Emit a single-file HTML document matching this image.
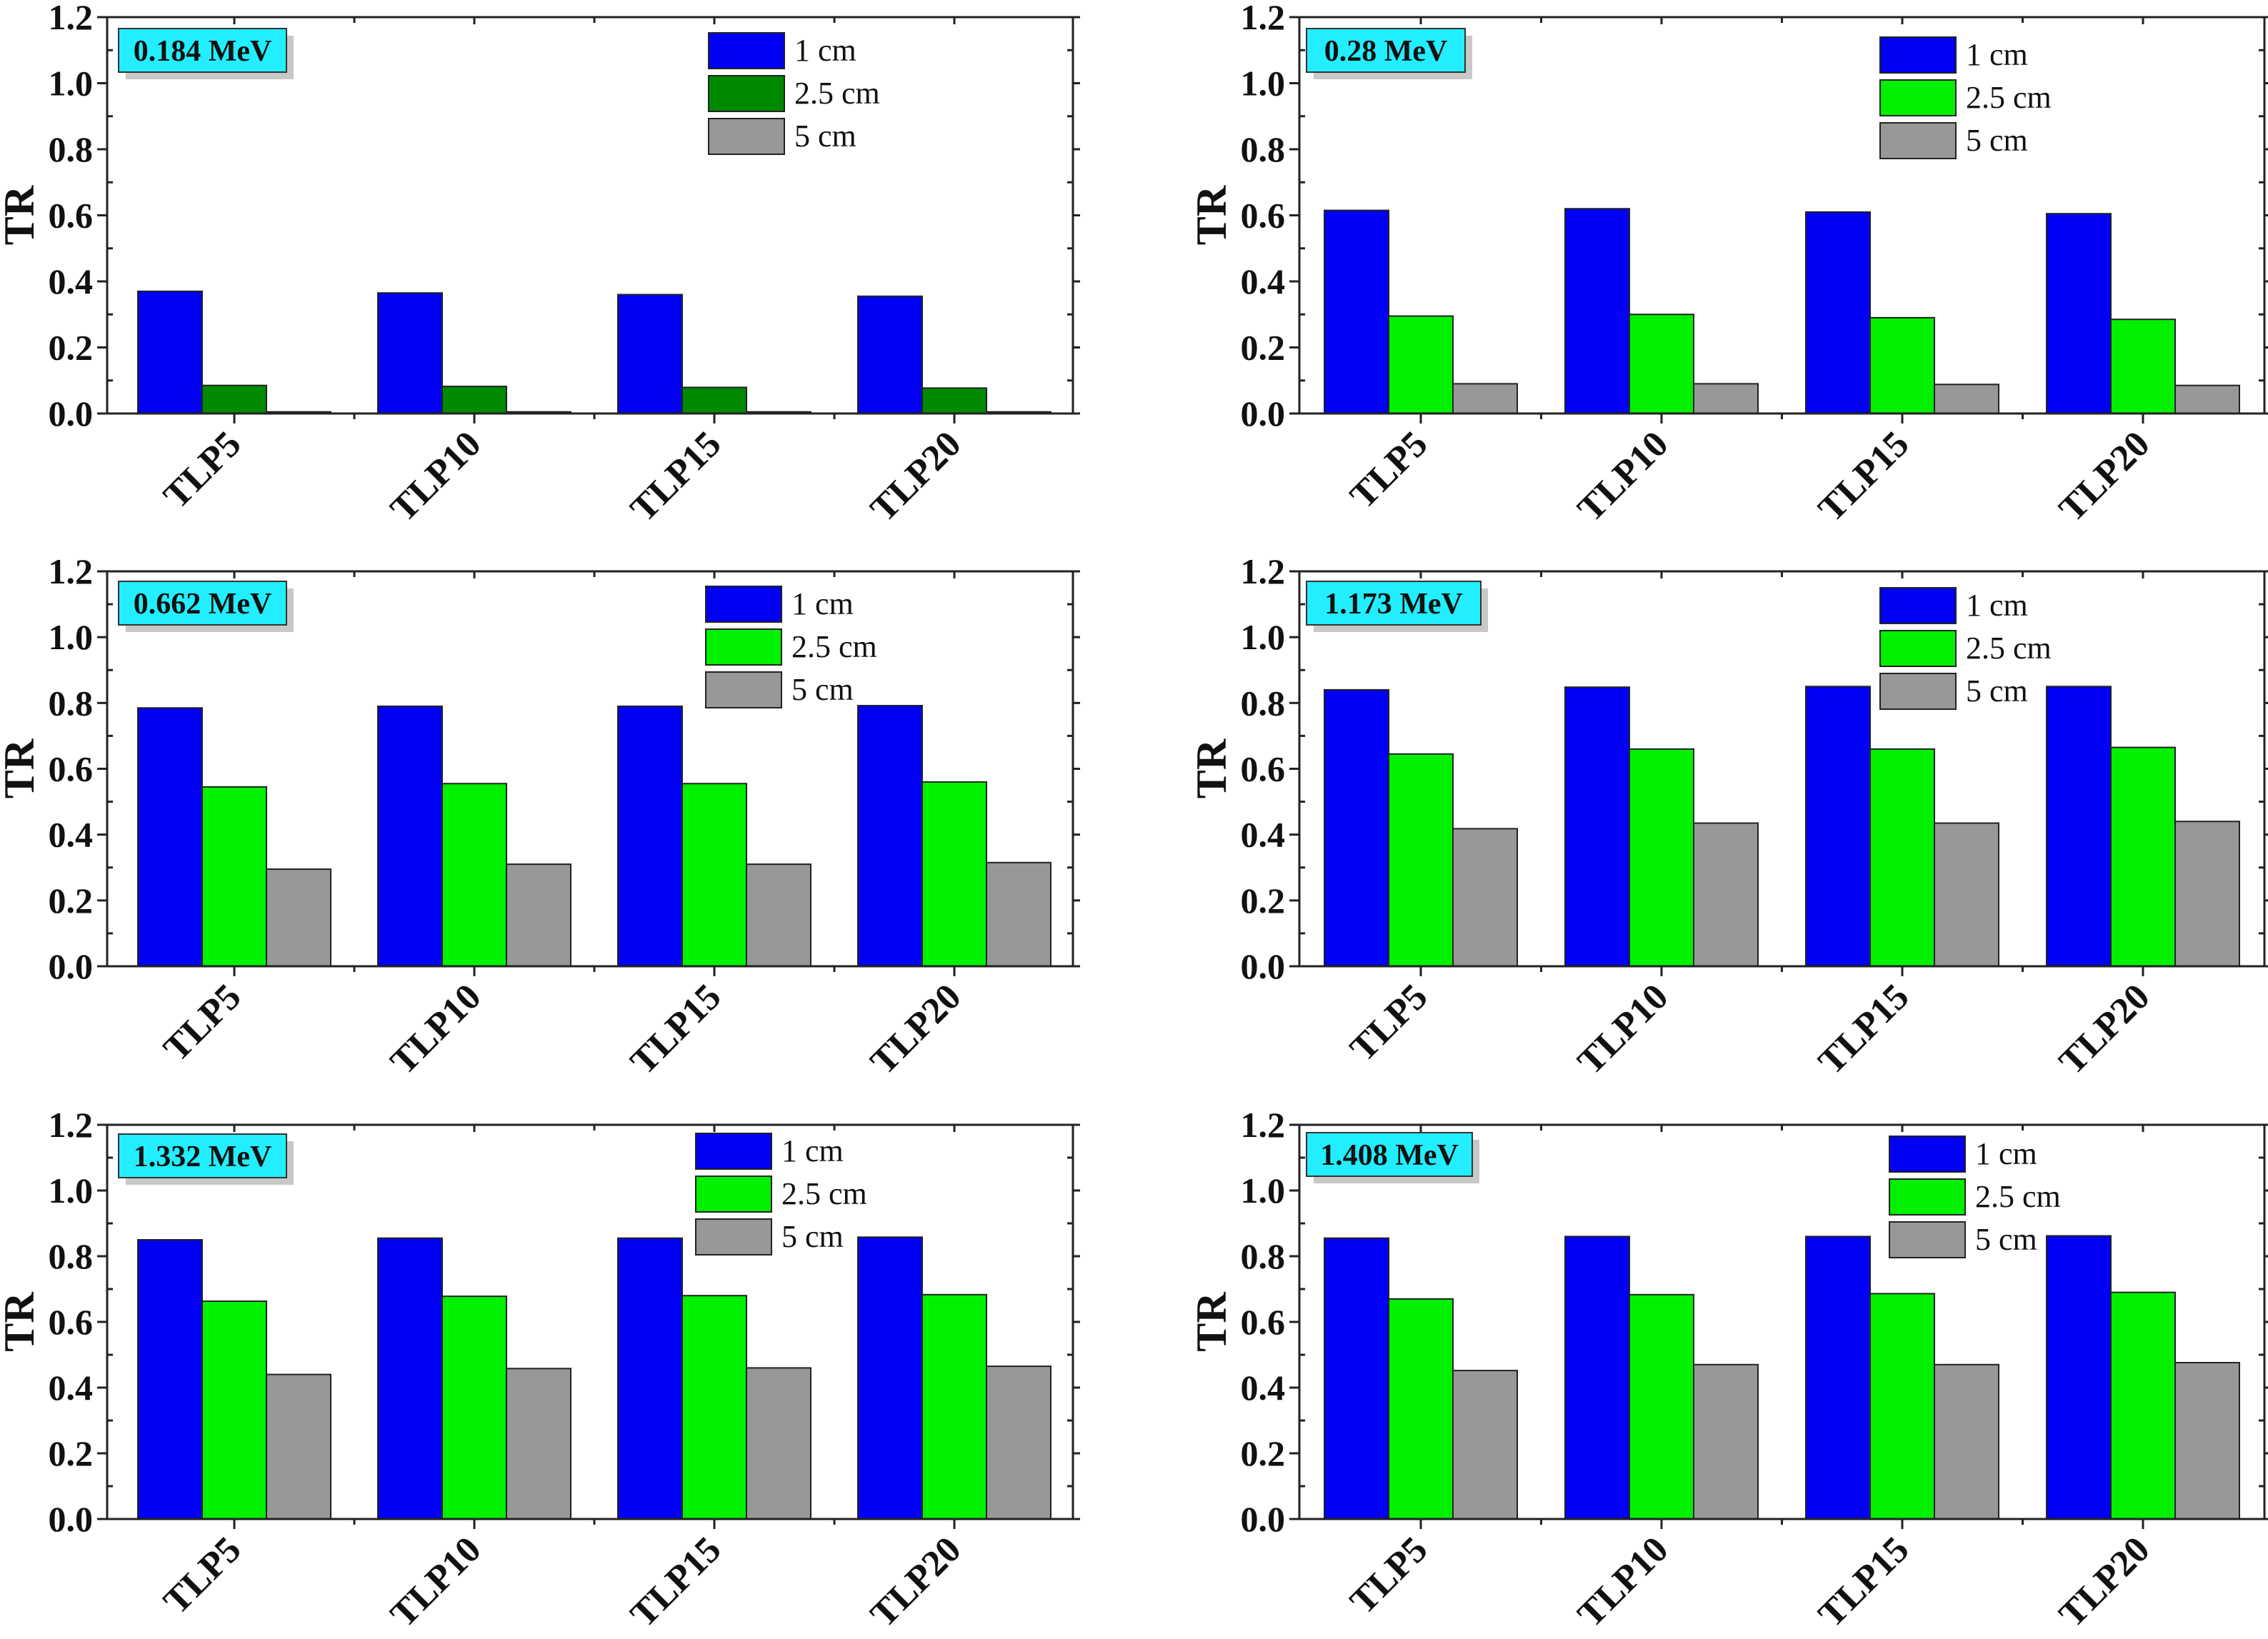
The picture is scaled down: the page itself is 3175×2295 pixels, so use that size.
<!DOCTYPE html>
<html><head><meta charset="utf-8"><style>
html,body{margin:0;padding:0;background:#fff;}
svg{display:block;font-family:"Liberation Serif",serif;}
</style></head><body>
<svg id="chart" width="3175" height="2295" viewBox="0 0 3175 2295" xmlns="http://www.w3.org/2000/svg"></svg>
<script>
const categories = ["TLP5","TLP10","TLP15","TLP20"];
const seriesNames = ["1 cm","2.5 cm","5 cm"];
const energies = ["0.184 MeV","0.28 MeV","0.662 MeV","1.173  MeV","1.332 MeV","1.408 MeV"];
const yTicks = ["0.0","0.2","0.4","0.6","0.8","1.0","1.2"];
const p1_1cm = [0.370,0.365,0.360,0.355];
const p1_25cm = [0.085,0.082,0.079,0.077];
const p1_5cm = [0.005,0.005,0.005,0.005];
const p2_1cm = [0.615,0.620,0.610,0.605];
const p2_25cm = [0.295,0.300,0.290,0.285];
const p2_5cm = [0.090,0.090,0.088,0.085];
const p3_1cm = [0.785,0.790,0.790,0.792];
const p3_25cm = [0.545,0.555,0.555,0.560];
const p3_5cm = [0.295,0.310,0.310,0.315];
const p4_1cm = [0.840,0.848,0.850,0.850];
const p4_25cm = [0.645,0.660,0.660,0.665];
const p4_5cm = [0.418,0.435,0.435,0.440];
const p5_1cm = [0.850,0.855,0.855,0.858];
const p5_25cm = [0.663,0.678,0.680,0.683];
const p5_5cm = [0.440,0.458,0.460,0.465];
const p6_1cm = [0.855,0.860,0.860,0.862];
const p6_25cm = [0.670,0.683,0.686,0.690];
const p6_5cm = [0.452,0.470,0.470,0.476];

const panelSeries = [[p1_1cm,p1_25cm,p1_5cm],[p2_1cm,p2_25cm,p2_5cm],[p3_1cm,p3_25cm,p3_5cm],[p4_1cm,p4_25cm,p4_5cm],[p5_1cm,p5_25cm,p5_5cm],[p6_1cm,p6_25cm,p6_5cm]];

const NS="http://www.w3.org/2000/svg";
const svg=document.getElementById('chart');
function mk(tag,attrs,parent){const e=document.createElementNS(NS,tag);for(const k in attrs)e.setAttribute(k,attrs[k]);(parent||svg).appendChild(e);return e;}

const cols=[{x0:150,x1:1502,first:328,step:336,bw:90},{x0:1819,x1:3170,first:1989,step:337,bw:90}];
const rows=[{top:24,bot:579},{top:800,bot:1353},{top:1575,bot:2127}];
const legendPos=[[992,71],[2632,77],[988,846],[2632,848],[974,1612],[2645,1616]];
const labelPos=[[166,40,235],[1829,40,222],[166,814,235],[1829,814,244],[166,1588,235],[1829,1586,232]];

for(let p=0;p<6;p++){
  const c=cols[p%2], r=rows[Math.floor(p/2)];
  const g=mk('g',{});
  
  
  const yS=v=>r.bot-(v/1.2)*(r.bot-r.top);
  const xC=i=>c.first+i*c.step;
  const colors=['#0000f5', p===0?'#008a00':'#00f000', '#989898'];
  panelSeries[p].forEach((vals,s)=>{
    vals.forEach((v,i)=>{
      const x=xC(i)+(s-1.5)*c.bw;
      const b=mk('rect',{x:x,y:yS(v),width:c.bw,height:r.bot-yS(v),fill:colors[s],stroke:'#222','stroke-width':2},g);
      
      
    });
  });
  const fr=mk('rect',{x:c.x0,y:r.top,width:c.x1-c.x0,height:r.bot-r.top,fill:'none',stroke:'#222','stroke-width':3},g);
  
  
  for(let k=0;k<=12;k++){
    const y=yS(k*0.1);
    if(k%2===0){
      mk('line',{x1:c.x0-14,x2:c.x0,y1:y,y2:y,stroke:'#222','stroke-width':3},g);
      mk('line',{x1:c.x1,x2:c.x1+10,y1:y,y2:y,stroke:'#222','stroke-width':3},g);
      const t=mk('text',{x:c.x0-20,y:y+17,'text-anchor':'end','font-size':50,'font-weight':'bold',fill:'#111'},g);
      t.textContent=yTicks[k/2];
      
      
    } else {
      mk('line',{x1:c.x0,x2:c.x0+8,y1:y,y2:y,stroke:'#222','stroke-width':3},g);
      mk('line',{x1:c.x1-8,x2:c.x1,y1:y,y2:y,stroke:'#222','stroke-width':3},g);
    }
  }
  for(let i=0;i<4;i++){
    const x=xC(i);
    mk('line',{x1:x,x2:x,y1:r.bot,y2:r.bot+14,stroke:'#222','stroke-width':3},g);
    mk('line',{x1:x,x2:x,y1:r.top,y2:r.top+10,stroke:'#222','stroke-width':3},g);
    const xm=x+c.step/2;
    if(i<3){mk('line',{x1:xm,x2:xm,y1:r.bot,y2:r.bot+8,stroke:'#222','stroke-width':3},g);
    mk('line',{x1:xm,x2:xm,y1:r.top,y2:r.top+8,stroke:'#222','stroke-width':3},g);}
    const t=mk('text',{x:x+12,y:r.bot+46,'text-anchor':'end','font-size':52,'font-weight':'bold',fill:'#111',transform:`rotate(-45 ${x+12} ${r.bot+46})`},g);
    t.textContent=categories[i];
    
    
  }
  const tx=c.x0-103, ty=(r.top+r.bot)/2;
  const yt=mk('text',{x:tx,y:ty,'text-anchor':'middle','font-size':60,'font-weight':'bold',fill:'#111',transform:`rotate(-90 ${tx} ${ty})`},g);
  yt.textContent='TR';
  
  
  const [lx,ly,lw]=labelPos[p];
  mk('rect',{x:lx+10,y:ly+10,width:lw,height:61,fill:'#c8c8c8'},g);
  const lb=mk('rect',{x:lx,y:ly,width:lw,height:61,fill:'#22eeff',stroke:'#333','stroke-width':2},g);
  
  
  const lt=mk('text',{x:lx+lw/2,y:ly+45,'text-anchor':'middle','font-size':42,'font-weight':'bold',fill:'#111'},g);
  lt.textContent=energies[p];
  
  
  const [gx,gy]=legendPos[p];
  for(let s=0;s<3;s++){
    const cy=gy+s*60;
    const lr=mk('rect',{x:gx,y:cy-25,width:106,height:50,fill:colors[s],stroke:'#222','stroke-width':2},g);
    
    
    const lt2=mk('text',{x:gx+120,y:cy+14,'font-size':44,fill:'#111'},g);
    lt2.textContent=seriesNames[s];
    
    
  }
}
</script>
</body></html>
